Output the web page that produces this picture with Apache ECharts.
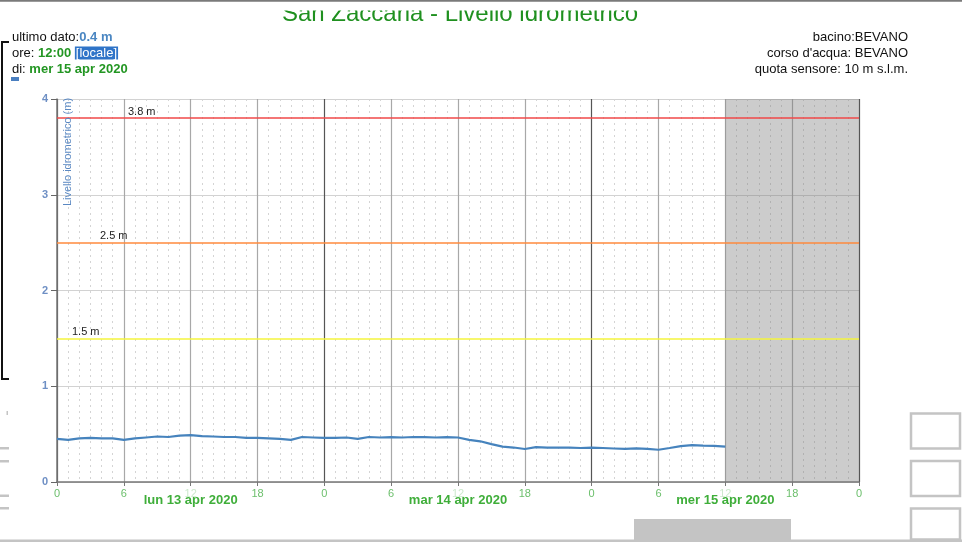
<!DOCTYPE html>
<html>
<head>
<meta charset="utf-8">
<style>
  html, body { margin: 0; padding: 0; background: #fff; }
  #chart { width: 962px; height: 542px; }
</style>
<script src="https://cdn.jsdelivr.net/npm/echarts@6/dist/echarts.min.js"></script>
</head>
<body>
<div id="chart"></div>
<script>
// livello idrometrico, un valore ogni ora dal lun 13 apr 2020 ore 00:00
var levels = [
  0.45, 0.44, 0.455, 0.46, 0.455, 0.455, 0.44, 0.455, 0.465, 0.475,
  0.47, 0.485, 0.49, 0.48, 0.475, 0.47, 0.47, 0.46, 0.46, 0.455,
  0.45, 0.44, 0.47, 0.465, 0.46, 0.46, 0.465, 0.45, 0.47, 0.465,
  0.468, 0.465, 0.47, 0.468, 0.465, 0.468, 0.465, 0.44, 0.425, 0.395,
  0.37, 0.36, 0.345, 0.365, 0.36, 0.358, 0.36, 0.355, 0.358, 0.355,
  0.35, 0.345, 0.352, 0.345, 0.337, 0.355, 0.375, 0.385, 0.38, 0.378,
  0.37
];
var dayLabels = ['lun 13 apr 2020', 'mar 14 apr 2020', 'mer 15 apr 2020'];
var thresholds = [3.8, 2.5, 1.5];
var thresholdColors = ['#f04848', '#ff8a3c', '#f5f53c'];
var hoursShown = 72;      // 3 giorni
var futureFrom = 60;      // mer 15 apr 12:00
var lastValue = '0.4 m';
var lastTime = '12:00';
var lastDay = 'mer 15 apr 2020';
var infoRight = ['bacino:BEVANO', "corso d'acqua: BEVANO", 'quota sensore: 10 m s.l.m.'];

var FONT = '"Liberation Sans", Arial, sans-serif';
var lineData = levels.map(function (v, i) { return [i, v]; });
var labelOffsets = [71, 43, 15];

var chart = echarts.init(document.getElementById('chart'));
var option = {
  animation: false,
  textStyle: { fontFamily: FONT },
  grid: { left: 57, right: 103, top: 99, bottom: 60 },
  xAxis: [
    {
      type: 'value',
      position: 'bottom',
      min: 0,
      max: hoursShown,
      interval: 6,
      axisLine: { lineStyle: { color: '#777', width: 1.5 } },
      axisTick: { show: true, length: 4, lineStyle: { color: '#777' } },
      axisLabel: {
        margin: 6,
        fontSize: 11,
        color: '#6cbf6c',
        formatter: function (v) {
          var h = v % 24;
          return h === 12 ? '{f|12}' : String(h);
        },
        rich: { f: { color: '#cde9cd', fontSize: 11 } }
      },
      splitLine: {
        show: true,
        lineStyle: { color: ['#555', '#a8a8a8', '#a8a8a8', '#a8a8a8'], width: 1.2 }
      },
      minorTick: { show: false, splitNumber: 6 },
      minorSplitLine: { show: true, lineStyle: { color: '#d4d4d4', type: [2, 4] } }
    },
    {
      type: 'value',
      position: 'bottom',
      min: 0,
      max: hoursShown,
      interval: 12,
      axisLine: { show: false },
      axisTick: { show: false },
      splitLine: { show: false },
      axisLabel: {
        margin: 12,
        fontSize: 13,
        fontWeight: 'bold',
        color: '#3fae3a',
        formatter: function (v) {
          return v % 24 === 12 ? dayLabels[Math.floor(v / 24)] : '';
        }
      }
    }
  ],
  yAxis: {
    type: 'value',
    min: 0,
    max: 4,
    interval: 1,
    axisLine: { show: true, lineStyle: { color: '#777', width: 1.5 } },
    axisTick: { show: true, length: 6, lineStyle: { color: '#666' } },
    axisLabel: { margin: 9, fontSize: 11, fontWeight: 'bold', color: '#6e8fc4' },
    splitLine: { show: true, lineStyle: { color: '#d2d2d2' } }
  },
  series: [
    {
      type: 'line',
      xAxisIndex: 0,
      data: lineData,
      showSymbol: false,
      symbol: 'none',
      lineStyle: { color: '#4683bd', width: 2.2 },
      markLine: {
        silent: true,
        symbol: 'none',
        data: thresholds.map(function (t, i) {
          return {
            yAxis: t,
            lineStyle: { color: thresholdColors[i], width: 1.5, type: 'solid' },
            label: {
              show: true,
              position: 'insideStartTop',
              distance: [labelOffsets[i], 1],
              formatter: t + ' m',
              color: '#222',
              fontSize: 11
            }
          };
        })
      },
      markArea: {
        silent: true,
        itemStyle: { color: 'rgba(120,120,120,0.38)' },
        data: [[{ xAxis: futureFrom }, { xAxis: hoursShown }]]
      }
    }
  ],
  graphic: [
    // titolo (tagliato in alto)
    {
      type: 'text', x: 460, y: 14, z: 10,
      style: {
        text: 'San Zaccaria - Livello idrometrico',
        font: '24px ' + FONT, fill: '#1f901f',
        textAlign: 'center', textVerticalAlign: 'middle'
      }
    },
    { type: 'rect', z: 11, shape: { x: 0, y: 1.5, width: 962, height: 9 }, style: { fill: '#fff' } },
    { type: 'rect', z: 12, shape: { x: 0, y: 0, width: 962, height: 1.8 }, style: { fill: '#7a7a7a' } },
    // info a sinistra
    {
      type: 'text', x: 12, y: 37, z: 10,
      style: {
        text: 'ultimo dato:{b|' + lastValue + '}',
        font: '13px ' + FONT, fill: '#111', textVerticalAlign: 'middle',
        rich: { b: { font: 'bold 13px ' + FONT, fill: '#4a86c2' } }
      }
    },
    {
      type: 'text', x: 12, y: 53, z: 10,
      style: {
        text: 'ore: {b|' + lastTime + '} {s|[locale]}',
        font: '13px ' + FONT, fill: '#111', textVerticalAlign: 'middle',
        rich: {
          b: { font: 'bold 13px ' + FONT, fill: '#239623' },
          s: { font: '13px ' + FONT, fill: '#fff', backgroundColor: '#2f74c8', padding: [0, 1, 0, 1] }
        }
      }
    },
    {
      type: 'text', x: 12, y: 69.5, z: 10,
      style: {
        text: 'di: {b|' + lastDay + '}',
        font: '13px ' + FONT, fill: '#111', textVerticalAlign: 'middle',
        rich: { b: { font: 'bold 13px ' + FONT, fill: '#239623' } }
      }
    },
    { type: 'rect', z: 10, shape: { x: 11, y: 77, width: 8, height: 4 }, style: { fill: '#4a7fc0' } },
    {
      type: 'polyline', z: 10,
      shape: { points: [[9, 42], [2, 42], [2, 379], [9, 379]] },
      style: { stroke: '#111', lineWidth: 2, fill: null }
    },
    // info a destra
    {
      type: 'text', x: 908, y: 37, z: 10,
      style: { text: infoRight[0], font: '13px ' + FONT, fill: '#111', textAlign: 'right', textVerticalAlign: 'middle' }
    },
    {
      type: 'text', x: 908, y: 53, z: 10,
      style: { text: infoRight[1], font: '13px ' + FONT, fill: '#111', textAlign: 'right', textVerticalAlign: 'middle' }
    },
    {
      type: 'text', x: 908, y: 69.5, z: 10,
      style: { text: infoRight[2], font: '13px ' + FONT, fill: '#111', textAlign: 'right', textVerticalAlign: 'middle' }
    },
    // nome asse y dentro il grafico
    {
      type: 'text', x: 67.5, y: 152, rotation: Math.PI / 2, z: 10,
      style: {
        text: 'Livello idrometrico (m)', font: '11px ' + FONT, fill: '#5a88c2',
        textAlign: 'center', textVerticalAlign: 'middle'
      }
    },
    // resti della pagina in basso
    { type: 'rect', z: 10, shape: { x: 911, y: 413.5, width: 49, height: 35 }, style: { fill: null, stroke: '#c4c4c4', lineWidth: 2.5 } },
    { type: 'rect', z: 10, shape: { x: 911, y: 461, width: 49, height: 35 }, style: { fill: null, stroke: '#c4c4c4', lineWidth: 2.5 } },
    { type: 'rect', z: 10, shape: { x: 911, y: 508.5, width: 49, height: 31 }, style: { fill: null, stroke: '#c4c4c4', lineWidth: 2.5 } },
    { type: 'rect', z: 10, shape: { x: 634, y: 519, width: 157, height: 22 }, style: { fill: '#c4c4c4' } },
    { type: 'rect', z: 10, shape: { x: 0, y: 539.5, width: 962, height: 2.5 }, style: { fill: '#c4c4c4' } },
    { type: 'rect', z: 10, shape: { x: 0, y: 447, width: 9, height: 2.5 }, style: { fill: '#c4c4c4' } },
    { type: 'rect', z: 10, shape: { x: 0, y: 460, width: 9, height: 2.5 }, style: { fill: '#c4c4c4' } },
    { type: 'rect', z: 10, shape: { x: 0, y: 494.5, width: 9, height: 2.5 }, style: { fill: '#c4c4c4' } },
    { type: 'rect', z: 10, shape: { x: 0, y: 507, width: 9, height: 2.5 }, style: { fill: '#c4c4c4' } },
    { type: 'rect', z: 10, shape: { x: 6.5, y: 411, width: 1.5, height: 4 }, style: { fill: '#c4c4c4' } }
  ]
};
chart.setOption(option);
</script>
</body>
</html>
